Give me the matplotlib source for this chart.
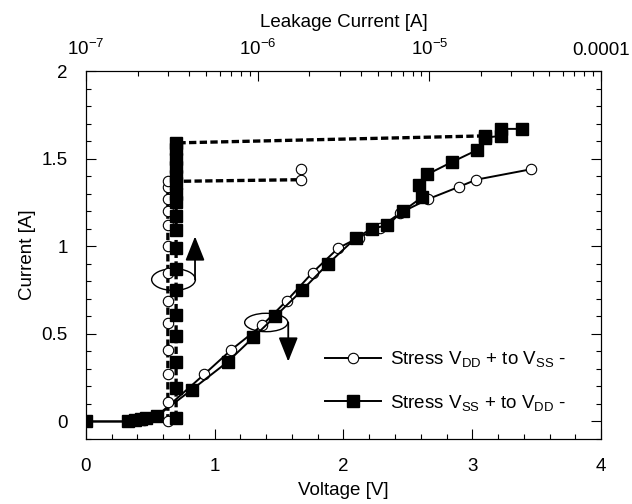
import numpy as np
import matplotlib
matplotlib.use('Agg')
import matplotlib.pyplot as plt
from matplotlib.patches import Ellipse
from matplotlib.ticker import MultipleLocator, LogLocator, NullFormatter

plt.rcParams['font.family'] = ['Liberation Sans', 'DejaVu Sans']
plt.rcParams['mathtext.fontset'] = 'custom'
plt.rcParams['mathtext.rm'] = 'Liberation Sans'
plt.rcParams['mathtext.it'] = 'Liberation Sans'

# Curva I-V (eje inferior, voltaje)
v_dd = [0, 0.33, 0.45, 0.55, 0.92, 1.13, 1.37, 1.56, 1.76, 1.96, 2.12, 2.28, 2.44, 2.66, 2.90, 3.03, 3.46]
i_dd = [0, 0.0, 0.01, 0.03, 0.27, 0.41, 0.55, 0.69, 0.85, 0.99, 1.05, 1.105, 1.19, 1.27, 1.34, 1.38, 1.44]

v_ss = [0, 0.33, 0.38, 0.43, 0.47, 0.55, 0.82, 1.10, 1.30, 1.47, 1.68, 1.88, 2.10, 2.22, 2.34, 2.46, 2.61, 2.59, 2.65, 2.84, 3.04, 3.10, 3.22, 3.22, 3.39]
i_ss = [0, 0.0, 0.01, 0.015, 0.02, 0.03, 0.18, 0.34, 0.48, 0.60, 0.75, 0.90, 1.05, 1.10, 1.12, 1.20, 1.28, 1.35, 1.41, 1.48, 1.55, 1.62, 1.63, 1.67, 1.67]

# Corriente de fuga (eje superior, log)
leak_dd = [3.0e-7] * 13 + [1.8e-6, 1.8e-6]
ileak_dd = [0, 0.11, 0.27, 0.41, 0.56, 0.69, 0.85, 1.0, 1.12, 1.2, 1.27, 1.34, 1.37, 1.38, 1.44]

leak_ss = [3.35e-7] * 18 + [2.1e-5]
ileak_ss = [0.02, 0.19, 0.34, 0.49, 0.61, 0.75, 0.87, 0.99, 1.09, 1.17, 1.25, 1.30, 1.36, 1.40, 1.45, 1.50, 1.555, 1.59, 1.63]

fs = 13.5

fig = plt.figure(figsize=(6.32, 5.04), dpi=100)
ax = fig.add_axes([0.136, 0.129, 0.815, 0.730])

ax.plot(v_dd, i_dd, '-', color='k', lw=1.4, marker='o', ms=7.5, mfc='white', mec='k', mew=0.8,
        label=r'Stress V$_{\rm DD}$ + to V$_{\rm SS}$ -', zorder=3)
ax.plot(v_ss, i_ss, '-', color='k', lw=1.4, marker='s', ms=9, mfc='k', mec='k',
        label=r'Stress V$_{\rm SS}$ + to V$_{\rm DD}$ -', zorder=4)

ax.set_xlim(0, 4)
ax.set_ylim(-0.1, 2)
ax.set_xticks([0, 1, 2, 3, 4])
ax.set_yticks([0, 0.5, 1, 1.5, 2])
ax.set_yticklabels(['0', '0.5', '1', '1.5', '2'])
ax.xaxis.set_minor_locator(MultipleLocator(0.2))
ax.yaxis.set_minor_locator(MultipleLocator(0.1))
ax.tick_params(which='both', direction='in', right=True, labelsize=fs)
ax.tick_params(which='major', length=7, width=0.8)
ax.tick_params(which='minor', length=3.5, width=0.8)
ax.tick_params(axis='x', which='major', pad=14)
ax.tick_params(axis='y', which='major', pad=13)
ax.set_xlabel('Voltage [V]', fontsize=fs, labelpad=5)
ax.set_ylabel('Current [A]', fontsize=fs, labelpad=4)

ax2 = ax.twiny()
ax2.plot(leak_dd, ileak_dd, color='k', lw=2.4, ls=(0, (2.2, 1.0)), marker='o', ms=7.5,
         mfc='white', mec='k', mew=0.8, zorder=3)
ax2.plot(leak_ss, ileak_ss, color='k', lw=2.4, ls=(0, (2.2, 1.0)), marker='s', ms=9,
         mfc='k', mec='k', zorder=4)
ax2.set_xscale('log')
ax2.set_xlim(1e-7, 1e-4)
ax2.set_xticks([1e-7, 1e-6, 1e-5, 1e-4])
ax2.set_xticklabels([r'$10^{-7}$', r'$10^{-6}$', r'$10^{-5}$', '0.0001'])
ax2.xaxis.set_minor_locator(LogLocator(base=10, subs=np.arange(2, 10)))
ax2.xaxis.set_minor_formatter(NullFormatter())
ax2.tick_params(which='both', direction='in', labelsize=fs)
ax2.tick_params(which='major', length=7, width=0.8, pad=9)
ax2.tick_params(which='minor', length=3.5, width=0.8)
ax2.set_xlabel('Leakage Current [A]', fontsize=fs, labelpad=8)

# Elipses y flechas
arrow = dict(arrowstyle='-|>,head_length=0.75,head_width=0.3', color='k', lw=1.3,
             mutation_scale=20, shrinkA=0, shrinkB=0)
ax.add_patch(Ellipse((0.68, 0.81), 0.34, 0.124, fill=False, lw=1.0, color='k', zorder=6))
ax.annotate('', xy=(0.847, 1.056), xytext=(0.847, 0.81), arrowprops=arrow)
ax.add_patch(Ellipse((1.40, 0.565), 0.335, 0.105, fill=False, lw=1.0, color='k', zorder=6))
ax.annotate('', xy=(1.571, 0.342), xytext=(1.571, 0.565), arrowprops=arrow)

ax.legend(loc='upper left', bbox_to_anchor=(0.431, 0.29), frameon=False, fontsize=fs,
          handlelength=3.0, handletextpad=0.5, labelspacing=1.25)

fig.savefig('out.png', dpi=100)
